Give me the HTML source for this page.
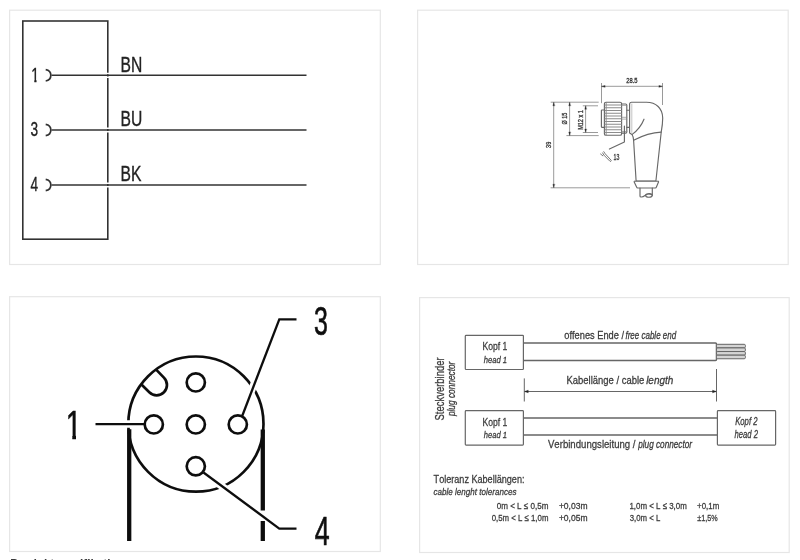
<!DOCTYPE html>
<html lang="de">
<head>
<meta charset="utf-8">
<title>Zeichnungen</title>
<style>
html,body{margin:0;padding:0;background:#fff;}
body{width:800px;height:560px;overflow:hidden;position:relative;}
svg{position:absolute;left:0;top:0;display:block;}
svg text{font-kerning:none;font-family:'Liberation Sans', sans-serif;}
</style>
</head>
<body>
<svg width="800" height="560" viewBox="0 0 800 560">
<defs><filter id="soft" x="0" y="0" width="800" height="560" filterUnits="userSpaceOnUse"><feGaussianBlur stdDeviation="0.45"/></filter><filter id="soft2" x="400" y="280" width="400" height="280" filterUnits="userSpaceOnUse"><feGaussianBlur stdDeviation="0.65"/></filter><filter id="soft3" x="400" y="0" width="400" height="280" filterUnits="userSpaceOnUse"><feGaussianBlur stdDeviation="0.4"/></filter></defs>
<rect width="800" height="560" fill="#fff"/>
<g filter="url(#soft)">
<g fill="#fff" stroke="#e6e6e6" stroke-width="1.2">
<rect x="9.6" y="10.2" width="370.7" height="254.3"/>
<rect x="417.6" y="10.2" width="370.6" height="254.3"/>
<rect x="9.6" y="296.7" width="370.7" height="254.8"/>
<rect x="419.6" y="297.6" width="369.6" height="254.9"/>
</g>
<g id="p1" fill="none" stroke="#333" stroke-width="1.6">
<rect x="22.8" y="21" width="85" height="218.2"/>
<path d="M45.7 69.6 A6.3 5.8 0 0 1 45.7 81.0" stroke-width="1.7"/>
<path d="M107.8 72.7v1.5M107.8 76.4v1.5" stroke="#fff" stroke-width="2.4"/>
<line x1="51.5" y1="75.3" x2="306.5" y2="75.3"/>
<path d="M45.7 124.3 A6.3 5.8 0 0 1 45.7 135.7" stroke-width="1.7"/>
<path d="M107.8 127.4v1.5M107.8 131.1v1.5" stroke="#fff" stroke-width="2.4"/>
<line x1="51.5" y1="130" x2="306.5" y2="130"/>
<path d="M45.7 179.3 A6.3 5.8 0 0 1 45.7 190.7" stroke-width="1.7"/>
<path d="M107.8 182.4v1.5M107.8 186.1v1.5" stroke="#fff" stroke-width="2.4"/>
<line x1="51.5" y1="185" x2="306.5" y2="185"/>
</g>
<g id="p1t">
<clipPath id="k1"><path d="M29.30 60.60H38.49V79.66H36.49V83.60H34.31V79.66H29.30z"/></clipPath><g clip-path="url(#k1)"><text transform="translate(31.3 81.6) scale(0.66 1)" font-size="21.0" text-anchor="start" fill="#222" stroke="#222" stroke-width="0.35">1</text></g>
<text transform="translate(120.6 71.6) scale(0.725 1)" font-size="21.6" text-anchor="start" fill="#222" stroke="#222" stroke-width="0.35">BN</text>
<text transform="translate(34.3 136.4) scale(0.65 1)" font-size="21.0" text-anchor="middle" fill="#222" stroke="#222" stroke-width="0.35">3</text>
<text transform="translate(120.6 126.3) scale(0.725 1)" font-size="21.6" text-anchor="start" fill="#222" stroke="#222" stroke-width="0.35">BU</text>
<text transform="translate(34.3 191.4) scale(0.65 1)" font-size="21.0" text-anchor="middle" fill="#222" stroke="#222" stroke-width="0.35">4</text>
<text transform="translate(120.6 181.3) scale(0.725 1)" font-size="21.6" text-anchor="start" fill="#222" stroke="#222" stroke-width="0.35">BK</text>
</g>
<g id="p3" fill="none" stroke="#111">
<circle cx="195.9" cy="424.1" r="67.6" stroke-width="2.7"/>
<path d="M155.9 369.4 L163.9 377.6 A10.3 10.3 0 0 1 149.3 392.3 L141.2 384.2" stroke-width="2.7"/>
<g stroke="#fff" stroke-width="7.5">
<line x1="118" y1="424" x2="140" y2="424"/>
<line x1="247" y1="402" x2="279.3" y2="319.3"/>
<line x1="208" y1="476" x2="279.3" y2="528.6"/>
</g>
<line x1="129.2" y1="429.2" x2="129.2" y2="541" stroke-width="4.3"/>
<path d="M262.8 429.5 V510.5 M262.8 521 V541" stroke-width="4.3"/>
<circle cx="195.8" cy="382.4" r="9.1" stroke-width="2.7" fill="#fff"/>
<circle cx="153.8" cy="424.4" r="9.1" stroke-width="2.7" fill="#fff"/>
<circle cx="195.8" cy="424.4" r="9.1" stroke-width="2.7" fill="#fff"/>
<circle cx="237.8" cy="424.4" r="9.1" stroke-width="2.7" fill="#fff"/>
<circle cx="195.8" cy="466.3" r="9.1" stroke-width="2.7" fill="#fff"/>
<g stroke-width="2.3">
<line x1="95.5" y1="424.2" x2="144.5" y2="424.2"/>
<polyline points="242.2,416 279.3,319.3 296.5,319.3"/>
<polyline points="203.5,472.5 279.3,528.6 296.5,528.6"/>
</g>
</g>
<g id="p3t">
<clipPath id="k2"><path d="M63.75 398.00H78.01V435.07H76.01V440.60H72.29V435.07H63.75z"/></clipPath><g clip-path="url(#k2)"><text transform="translate(65.75 438.6) scale(0.7 1)" font-size="40.6" text-anchor="start" fill="#111" stroke="#111" stroke-width="0.6">1</text></g>
<text transform="translate(321 335.4) scale(0.62 1)" font-size="40.3" text-anchor="middle" fill="#111" stroke="#111" stroke-width="0.7">3</text>
<text transform="translate(322.2 544.7) scale(0.66 1)" font-size="40.6" text-anchor="middle" fill="#111" stroke="#111" stroke-width="0.7">4</text>
</g>
<g filter="url(#soft2)">
<g id="p4" fill="none" stroke="#666" stroke-width="1.2">
<rect x="465.3" y="335.3" width="58.1" height="34.2" rx="0.8"/>
<rect x="465.3" y="410.6" width="58.1" height="34.5" rx="0.8"/>
<rect x="717.4" y="410.6" width="58.2" height="34.5" rx="0.8"/>
<path d="M523.4 343H715.5a1 1 0 0 1 1 1V359.4a1 1 0 0 1 -1 1H523.4" stroke-width="1.5"/>
<rect x="716.5" y="344.30" width="28.9" height="3.62" rx="1.2" fill="#d4d4d4" stroke-width="1"/>
<rect x="716.5" y="347.92" width="28.9" height="3.62" rx="1.2" fill="#d4d4d4" stroke-width="1"/>
<rect x="716.5" y="351.54" width="28.9" height="3.62" rx="1.2" fill="#d4d4d4" stroke-width="1"/>
<rect x="716.5" y="355.16" width="28.9" height="3.62" rx="1.2" fill="#d4d4d4" stroke-width="1"/>
<path d="M523.4 418H717M523.4 435.1H717" stroke-width="1.5"/>
<path d="M524.3 378.4V401.5M716.5 369V401.5" stroke-width="1"/>
<path d="M524.6 391.5H716.2" stroke-width="1"/>
<path d="M524.6 391.5l3.6 -1.3v2.6zM716.2 391.5l-3.6 -1.3v2.6z" fill="#222" stroke="#222" stroke-width="0.4"/>
</g>
<g id="p4t">
<text transform="translate(482.50 349.8) scale(0.7532 1)" font-size="11.4" fill="#3c3c3c" stroke="#3c3c3c" stroke-width="0.3">Kopf 1</text>
<text transform="translate(483.77 362.5) scale(0.7797 1)" font-size="9.8" fill="#3c3c3c" stroke="#3c3c3c" stroke-width="0.3"><tspan font-style="italic">head 1</tspan></text>
<text transform="translate(482.50 425.8) scale(0.7598 1)" font-size="11.3" fill="#3c3c3c" stroke="#3c3c3c" stroke-width="0.3">Kopf 1</text>
<text transform="translate(483.77 438.2) scale(0.7728 1)" font-size="9.8" fill="#3c3c3c" stroke="#3c3c3c" stroke-width="0.3"><tspan font-style="italic">head 1</tspan></text>
<text transform="translate(735.16 424.5) scale(0.7293 1)" font-size="10.6" fill="#3c3c3c" stroke="#3c3c3c" stroke-width="0.3"><tspan font-style="italic">Kopf 2</tspan></text>
<text transform="translate(734.57 437.5) scale(0.7440 1)" font-size="10.3" fill="#3c3c3c" stroke="#3c3c3c" stroke-width="0.3"><tspan font-style="italic">head 2</tspan></text>
<text transform="translate(443.9 420.43) rotate(-90) scale(0.7165 1)" font-size="13.2" fill="#3c3c3c" stroke="#3c3c3c" stroke-width="0.3">Steckverbinder</text>
<text transform="translate(455.3 416.09) rotate(-90) scale(0.7164 1)" font-size="11.6" fill="#3c3c3c" stroke="#3c3c3c" stroke-width="0.3"><tspan font-style="italic">plug connector</tspan></text>
<text transform="translate(564.31 338.6) scale(0.7979 1)" font-size="11.6" fill="#3c3c3c" stroke="#3c3c3c" stroke-width="0.3">offenes Ende /</text>
<text transform="translate(625.43 338.6) scale(0.7716 1)" font-size="10.4" fill="#3c3c3c" stroke="#3c3c3c" stroke-width="0.3"><tspan font-style="italic">free cable end</tspan></text>
<text transform="translate(566.42 384.0) scale(0.8315 1)" font-size="11.4" fill="#3c3c3c" stroke="#3c3c3c" stroke-width="0.3">Kabellänge / cable</text>
<text transform="translate(646.14 384.0) scale(0.8655 1)" font-size="11.5" fill="#3c3c3c" stroke="#3c3c3c" stroke-width="0.3"><tspan font-style="italic">length</tspan></text>
<text transform="translate(547.96 447.6) scale(0.8146 1)" font-size="11.8" fill="#3c3c3c" stroke="#3c3c3c" stroke-width="0.3">Verbindungsleitung /</text>
<text transform="translate(638.20 447.6) scale(0.7903 1)" font-size="10.4" fill="#3c3c3c" stroke="#3c3c3c" stroke-width="0.3"><tspan font-style="italic">plug connector</tspan></text>
<text transform="translate(433.60 483.0) scale(0.7842 1)" font-size="11.6" fill="#3c3c3c" stroke="#3c3c3c" stroke-width="0.3">Toleranz Kabellängen:</text>
<text transform="translate(433.54 495.0) scale(0.8228 1)" font-size="9.8" fill="#3c3c3c" stroke="#3c3c3c" stroke-width="0.3"><tspan font-style="italic">cable lenght tolerances</tspan></text>
<text transform="translate(496.68 508.8) scale(0.8250 1)" font-size="9.8" fill="#3c3c3c" stroke="#3c3c3c" stroke-width="0.3">0m &lt; L ≤ 0,5m</text>
<text transform="translate(491.69 521.3) scale(0.8001 1)" font-size="9.8" fill="#3c3c3c" stroke="#3c3c3c" stroke-width="0.3">0,5m &lt; L ≤ 1,0m</text>
<text transform="translate(558.88 508.8) scale(0.8701 1)" font-size="9.8" fill="#3c3c3c" stroke="#3c3c3c" stroke-width="0.3">+0,03m</text>
<text transform="translate(558.88 521.3) scale(0.8701 1)" font-size="9.8" fill="#3c3c3c" stroke="#3c3c3c" stroke-width="0.3">+0,05m</text>
<text transform="translate(629.40 508.8) scale(0.8086 1)" font-size="9.8" fill="#3c3c3c" stroke="#3c3c3c" stroke-width="0.3">1,0m &lt; L ≤ 3,0m</text>
<text transform="translate(629.70 521.3) scale(0.7956 1)" font-size="9.8" fill="#3c3c3c" stroke="#3c3c3c" stroke-width="0.3">3,0m &lt; L</text>
<text transform="translate(697.11 508.8) scale(0.8073 1)" font-size="9.8" fill="#3c3c3c" stroke="#3c3c3c" stroke-width="0.3">+0,1m</text>
<text transform="translate(697.27 521.3) scale(0.7392 1)" font-size="9.8" fill="#3c3c3c" stroke="#3c3c3c" stroke-width="0.3">±1,5%</text>
</g>
</g>
<g filter="url(#soft3)">
<g id="p2" fill="none" stroke="#686868" stroke-width="1.15" stroke-linejoin="round" stroke-linecap="round">
<g stroke="#8e8e8e" stroke-width="0.9" stroke-linecap="butt">
<path d="M550.7 102.2H598.7M566.4 135.6H598.7M582.8 105.8H598M582.8 132.5H598M550.6 187.8H630"/>
<path d="M553.7 102.4V187.6M569.6 102.4V135.4M585.6 106V132.3"/>
<path d="M601.5 83V103.2M662.5 83V105M601.7 86.3H662.3"/>
</g>
<path fill="#2a2a2a" stroke="#2a2a2a" stroke-width="0.3" d="M601.7 86.3l3.4 -0.85v1.7zM662.3 86.3l-3.4 -0.85v1.7zM553.7 102.4l-0.85 3.4h1.7zM553.7 187.6l-0.85 -3.4h1.7zM569.6 102.4l-0.85 3.4h1.7zM569.6 135.4l-0.85 -3.4h1.7zM585.6 106l-0.85 3.2h1.7zM585.6 132.3l-0.85 -3.2h1.7z"/>
<rect x="604.4" y="102.2" width="17.2" height="33.1" rx="1.6" fill="#fff"/>
<path d="M606.2 103V134.5" stroke-width="0.7"/>
<path stroke-width="1.1" stroke="#8c8c8c" d="M605 105.00H621.2M605 107.75H621.2M605 110.50H621.2M605 113.25H621.2M605 116.00H621.2M605 118.75H621.2M605 121.50H621.2M605 124.25H621.2M605 127.00H621.2M605 129.75H621.2M605 132.50H621.2"/>
<path d="M604.4 110H601.9a0.5 0.5 0 0 0 -0.5 0.5V126.8a0.5 0.5 0 0 0 0.5 0.5H604.4"/>
<path d="M621.6 104H625.6a1.2 1.2 0 0 1 1.2 1.2V131.9a1.2 1.2 0 0 1 -1.2 1.2H621.6"/>
<path d="M621.6 117.3H626.8M621.6 119.1H626.8M621.6 131.5H626.8M621.6 105.4H626.8" stroke-width="0.7" stroke="#8a8a8a"/>
<path d="M626.8 110.2H629.5M626.8 127.3H629.5"/>
<path fill="#fff" d="M629.6 133V104.2a2 2 0 0 1 2 -2H646.5C656 102.2 662.6 108.5 662.7 118C662.7 124 661.6 130 661.2 132.2L655.9 181H636.1L633.6 140.3C633.4 137.5 632.8 135.6 632 134.5z"/>
<path d="M631.8 104V132.5" stroke="#c4c4c4" stroke-width="1"/>
<path d="M644 119.2C641.5 125.5 637.5 130.4 632.2 134.4"/>
<path d="M633.6 140.3C642 135.8 651 132.4 661.2 132.1"/>
<path fill="#fff" d="M634.8 181.2H657.9a0.6 0.6 0 0 1 0.6 0.8L656.3 187.2a1 1 0 0 1 -1 0.8H637.7a1 1 0 0 1 -1 -0.8L634.2 182a0.6 0.6 0 0 1 0.6 -0.8z"/>
<path d="M640 188V196a1 1 0 0 0 1 1C644.5 197.4 645 194.2 648.6 193.7C650.8 193.5 652.3 194.6 652.3 195.3V188"/>
<ellipse cx="648.9" cy="195.5" rx="3.3" ry="1.7"/>
<path d="M624.4 126V141.9L609.4 149.1"/>
<path stroke-width="0.9" d="M602.6 152.9L603.9 155.1L610 161.3a0.8 0.8 0 0 0 1.1 -1.1L605.2 153.8L603.8 151.7M600.6 154L602.8 155.8"/>
</g>
<g id="p2t">
<text transform="translate(626.21 83.0) scale(0.7282 1)" font-size="8.0" fill="#3a3a3a" stroke="#3a3a3a" stroke-width="0.35">28.5</text>
<text transform="translate(567.2 124.49) rotate(-90) scale(0.6754 1)" font-size="8.0" fill="#3a3a3a" stroke="#3a3a3a" stroke-width="0.35">Ø 15</text>
<text transform="translate(582.8 129.86) rotate(-90) scale(0.6968 1)" font-size="8.0" fill="#3a3a3a" stroke="#3a3a3a" stroke-width="0.35">M12 x 1</text>
<text transform="translate(550.6 147.91) rotate(-90) scale(0.6939 1)" font-size="8.0" fill="#3a3a3a" stroke="#3a3a3a" stroke-width="0.35">39</text>
<text transform="translate(613.60 159.6) scale(0.6391 1)" font-size="8.2" fill="#3a3a3a" stroke="#3a3a3a" stroke-width="0.35">13</text>
</g>
</g>
<text transform="translate(10.3 568.3) scale(0.97 1)" font-size="12" text-anchor="start" fill="#3a3a3a" font-weight="bold">Produktspezifikationen</text>
</g>
</svg>
</body>
</html>
